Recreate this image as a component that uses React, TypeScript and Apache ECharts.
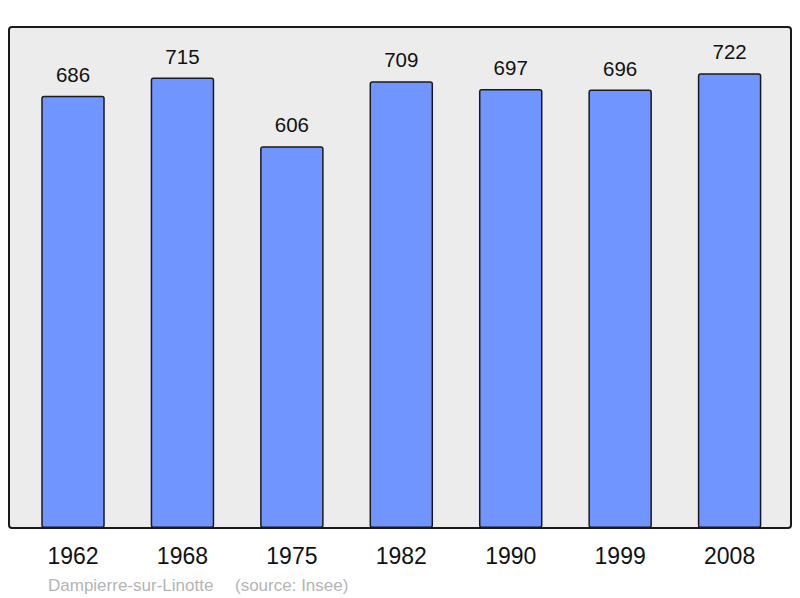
import React, { useEffect, useRef } from "react";
import * as echarts from "echarts";

const years = ["1962", "1968", "1975", "1982", "1990", "1999", "2008"];
const population = [686, 715, 606, 709, 697, 696, 722];
const townName = "Dampierre-sur-Linotte";
const sourceText = "(source: Insee)";

export default function App() {
  const ref = useRef<HTMLDivElement>(null);
  useEffect(() => {
    if (!ref.current) return;
    const chart = echarts.init(ref.current, null, { renderer: "svg" });
    chart.setOption({
      animation: false,
      backgroundColor: "#ffffff",
      textStyle: { fontFamily: "Liberation Sans, Arial, sans-serif" },
      graphic: [
        {
          type: "rect",
          z: -10,
          shape: { x: 9, y: 27, width: 782, height: 501, r: 3 },
          style: { fill: "#ececec", stroke: "#1a1a1a", lineWidth: 2 },
        },
        {
          type: "text",
          x: 48,
          y: 585,
          style: {
            text: townName,
            fill: "#b4b4b4",
            fontSize: 17,
            fontFamily: "Liberation Sans, Arial, sans-serif",
            verticalAlign: "middle",
          },
        },
        {
          type: "text",
          x: 235,
          y: 585,
          style: {
            text: sourceText,
            fill: "#b4b4b4",
            fontSize: 17,
            fontFamily: "Liberation Sans, Arial, sans-serif",
            verticalAlign: "middle",
          },
        },
      ],
      grid: { left: 18.3, right: 15.7, top: 24, bottom: 70, containLabel: false },
      xAxis: {
        type: "category",
        data: years,
        axisLine: { show: false },
        axisTick: { show: false },
        axisLabel: {
          color: "#111",
          fontSize: 23,
          margin: 16,
          fontFamily: "Liberation Sans, Arial, sans-serif",
        },
      },
      yAxis: {
        type: "value",
        min: 0,
        max: 800,
        show: false,
        splitLine: { show: false },
      },
      series: [
        {
          type: "bar",
          data: population,
          barWidth: 63.5,
          z: 2,
          itemStyle: {
            color: "#7095ff",
            borderColor: "#1a1a1a",
            borderWidth: 1.5,
            borderRadius: 2,
          },
          label: {
            show: true,
            position: "top",
            distance: 11,
            color: "#111",
            fontSize: 20.5,
            fontFamily: "Liberation Sans, Arial, sans-serif",
          },
        },
      ],
    });
    return () => chart.dispose();
  }, []);
  return <div ref={ref} style={{ width: 800, height: 598, position: "absolute", left: 0, top: 0 }} />;
}
